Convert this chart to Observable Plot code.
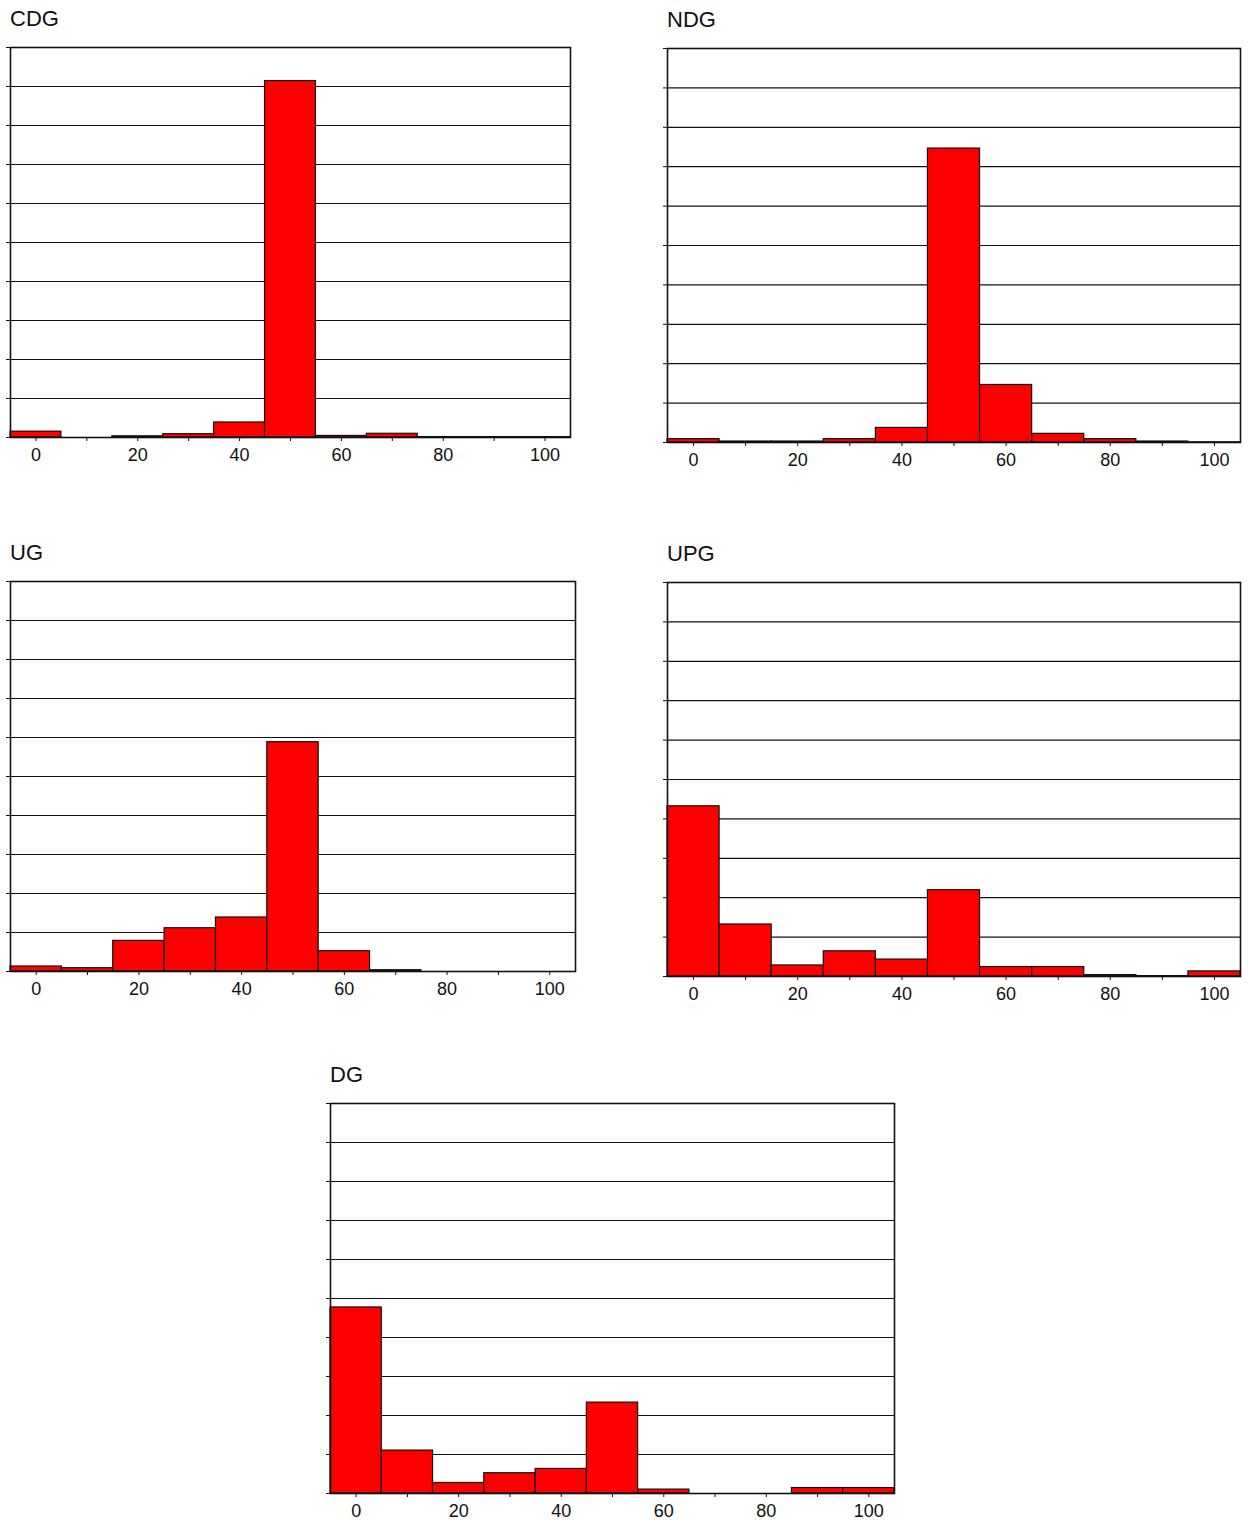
<!DOCTYPE html>
<html>
<head>
<meta charset="utf-8">
<script src="https://cdn.jsdelivr.net/npm/d3@7"></script>
<script src="https://cdn.jsdelivr.net/npm/@observablehq/plot@0.6"></script>
<style>
  html, body { margin: 0; padding: 0; background: #fff; }
  #root { position: relative; width: 1249px; height: 1522px; background: #fff; font-family: "Liberation Sans", Arial, sans-serif; }
  .title { position: absolute; font-size: 22px; line-height: 22px; color: #111; white-space: nowrap; }
  .panel { position: absolute; }
</style>
</head>
<body>
<div id="root"></div>
<script>
// Bin centres (bin width 10) and percentage of cases per bin
const bins = [0, 10, 20, 30, 40, 50, 60, 70, 80, 90, 100];
const xTicks = [0, 10, 20, 30, 40, 50, 60, 70, 80, 90, 100];
const yTicks = [0, 10, 20, 30, 40, 50, 60, 70, 80, 90, 100];
const panelNames = ["CDG", "NDG", "UG", "UPG", "DG"];

const cdg = [1.5, 0.0, 0.3, 0.85, 3.85, 91.4, 0.4, 0.95, 0.1, 0.1, 0.1];
const ndg = [0.85, 0.25, 0.25, 0.85, 3.7, 74.6, 14.6, 2.2, 0.85, 0.25, 0.05];
const ug  = [1.28, 0.85, 7.85, 11.1, 13.85, 58.8, 5.2, 0.33, 0.0, 0.0, 0.0];
const upg = [43.2, 13.2, 2.8, 6.4, 4.3, 21.9, 2.4, 2.4, 0.35, 0.1, 1.3];
const dg  = [47.7, 11.0, 2.7, 5.2, 6.3, 23.3, 1.0, 0.0, 0.0, 1.4, 1.4];

const seriesByName = { CDG: cdg, NDG: ndg, UG: ug, UPG: upg, DG: dg };

// Frame geometry (layout only)
const layout = {
  CDG: { fx: 10,  fy: 47,   fw: 560, fh: 390 },
  NDG: { fx: 667, fy: 48,   fw: 573, fh: 394 },
  UG:  { fx: 10,  fy: 581,  fw: 565, fh: 390 },
  UPG: { fx: 667, fy: 582,  fw: 573, fh: 394 },
  DG:  { fx: 330, fy: 1103, fw: 564, fh: 390 }
};

const ML = 12, MT = 6, MR = 6, MB = 34;
const root = document.getElementById("root");

for (const name of panelNames) {
  const g = layout[name];
  const data = bins.map((b, i) => ({ bin: b, value: seriesByName[name][i] }));

  const title = document.createElement("div");
  title.className = "title";
  title.textContent = name;
  title.style.left = g.fx + "px";
  title.style.top = (g.fy - 38.6) + "px";
  root.appendChild(title);

  const chart = Plot.plot({
    width: g.fw + ML + MR,
    height: g.fh + MT + MB,
    marginLeft: ML, marginRight: MR, marginTop: MT, marginBottom: MB,
    style: { fontFamily: "\"Liberation Sans\", Arial, sans-serif", fontSize: "18px", color: "#111", background: "transparent", overflow: "visible" },
    x: { domain: [-5, 105] },
    y: { domain: [0, 100] },
    marks: [
      Plot.gridY(yTicks.slice(1, -1), { stroke: "#111", strokeOpacity: 1, strokeWidth: 1.2 }),
      Plot.rectY(data, { x1: d => d.bin - 5, x2: d => d.bin + 5, y: "value", fill: "#ff0000", stroke: "#111", strokeWidth: 1.2 }),
      Plot.frame({ stroke: "#111", strokeWidth: 1.6 }),
      Plot.axisX({ ticks: xTicks, tickSize: 4, tickPadding: 7, tickFormat: d => (d % 20 === 0 ? String(d) : ""), label: null, stroke: "#111" }),
      Plot.axisY({ ticks: yTicks, tickSize: 4, tickFormat: () => "", label: null, stroke: "#111" })
    ]
  });
  chart.classList.add("panel");
  chart.style.left = (g.fx - ML) + "px";
  chart.style.top = (g.fy - MT) + "px";
  root.appendChild(chart);
}
</script>
</body>
</html>
